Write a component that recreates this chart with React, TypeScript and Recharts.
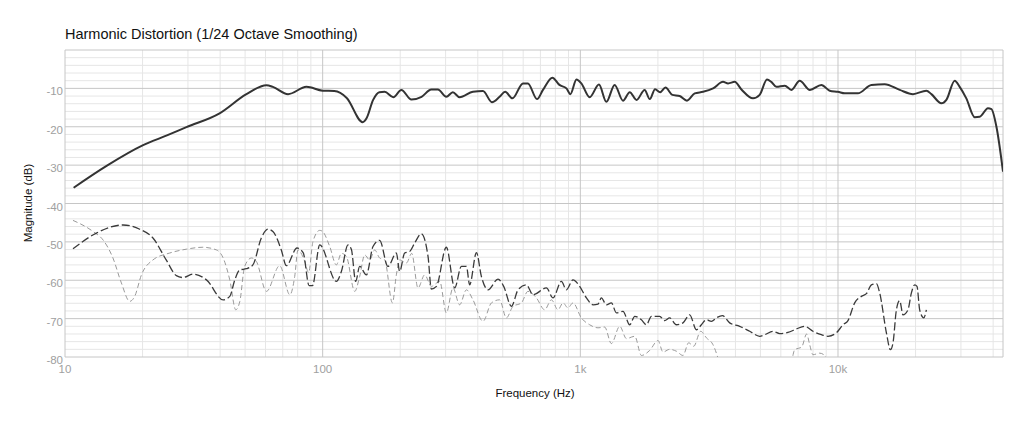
import React from "react"
import { LineChart, Line, XAxis, YAxis, ReferenceLine } from "recharts"

const FONT = "'Liberation Sans', Arial, Helvetica, sans-serif"

// fundamental (solid)
const fundHz = [
  10.8, 14.5, 20.1, 25, 29.6, 39.8, 50.6, 60.5, 64.1, 73.4, 86.5, 100, 111, 124, 143, 148, 157,
  166, 174, 188, 202, 221, 242, 264, 280, 302, 320, 340, 383, 419, 454, 486, 511, 545, 599, 626,
  679, 716, 779, 830, 883, 915, 966, 1009, 1087, 1181, 1262, 1359, 1464, 1555, 1653, 1777, 1860,
  1950, 2040, 2140, 2275, 2430, 2594, 2779, 2995, 3275, 3579, 3745, 3973, 4220, 4677, 4966,
  5302, 5510, 5767, 6213, 6600, 7100, 7780, 8620, 9290, 10000, 10620, 11950, 13480, 15180,
  17360, 19550, 22030, 23040, 25190, 26340, 28380, 29670, 31480, 33930, 35480, 38200, 39400,
  41200, 43690,
]
const fundDb = [
  -35.9, -30.2, -24.8, -22.2, -20.1, -16.5, -11.5, -9.2, -9.6, -11.5, -9.6, -10.6, -10.7, -12.5,
  -18.8, -17.8, -13, -11, -10.9, -12.3, -10.4, -12.9, -12.2, -10.3, -10.3, -12.2, -11, -12.3,
  -10.9, -10.7, -13.6, -12.2, -10.9, -12.6, -8.7, -8.7, -12.8, -10.4, -7.2, -9.1, -10, -11.5,
  -7.7, -8.7, -12.3, -9, -13.5, -9.1, -13.2, -11, -13, -10.4, -12.8, -10.2, -11, -9.8, -11.7,
  -12, -13.2, -11.3, -10.9, -10, -8.3, -8.7, -8.3, -10.3, -12.6, -11.7, -7.7, -8.3, -9.6, -9.3,
  -10.4, -8, -10.4, -9.1, -10.6, -10.9, -11.3, -11.3, -9.1, -8.9, -10.4, -11.5, -10.6, -11.5,
  -13.9, -13, -8, -9.6, -12.6, -17.5, -17.4, -15.2, -15.4, -20, -31.7,
]

// 2nd harmonic (dark dashed)
const h2Hz = [
  10.74, 13.24, 16.8, 19.5, 21.95, 24.7, 27.05, 28.7, 31.4, 35.4, 41.1, 43.6, 45.6, 47.7, 50.6,
  53.6, 57.8, 61.3, 64.1, 69.1, 72.3, 79.5, 84, 88.6, 91.3, 97.4, 113, 118.2, 125.4, 129.3,
  134.3, 139.2, 147.8, 156.8, 166.4, 179.2, 193.2, 199, 208.1, 217.6, 227.6, 241.5, 256.4,
  264.2, 276.4, 302, 325.4, 345.4, 361.3, 372, 395.2, 413, 438.2, 479.1, 504.2, 540.2, 573.1,
  617.6, 655.1, 738.5, 783.4, 844.5, 883, 936.5, 994, 1056, 1120, 1171, 1207, 1262, 1320, 1380,
  1464, 1555, 1626, 1726, 1805, 1887, 2032, 2125, 2222, 2360, 2503, 2657, 2821, 2950, 3085,
  3226, 3374, 3559, 3798, 4155, 4544, 4967, 5194, 5594, 5939, 6395, 6895, 7424, 7994, 8620,
  9144, 9856, 10456, 10934, 11609, 12326, 12891, 13481, 14095, 14516, 15413, 15970, 16350,
  16853, 17357, 17876, 18692, 19270, 19847, 20260, 20750, 21510, 22030,
]
const h2Db = [
  -51.8, -47.7, -45.6, -46.7, -49, -54.7, -58.8, -59.3, -58.4, -59.9, -65.1, -64.2, -59.9,
  -57.3, -57, -56, -49, -46.7, -47.3, -52.1, -56.2, -51.6, -52.8, -61.4, -61.4, -50.8, -60.3,
  -57.7, -50.8, -52, -60.3, -56.4, -58.6, -51.2, -49.6, -56.4, -52.9, -57.7, -52.9, -52.5,
  -50.3, -47.9, -53.8, -62.3, -61.6, -51.4, -62, -56.4, -56.4, -61.2, -52.8, -59, -62.5, -59.7,
  -61.6, -66.8, -62.5, -61.2, -63.8, -62, -64.6, -60.3, -62.5, -59.9, -61.6, -64.6, -66.4,
  -66.2, -64.6, -66.4, -65.9, -68.5, -68.1, -71.6, -69.4, -70.3, -71.6, -69.4, -69.4, -70.5,
  -69.8, -71.6, -71.1, -69, -72.9, -71.6, -70.3, -70.7, -69.8, -69.2, -71.1, -72, -73.3, -74.6,
  -74.2, -73.3, -73.9, -73.6, -72.7, -72, -73.3, -74.2, -74.6, -73.7, -71.6, -70.5, -65.9,
  -64.2, -63.5, -61.2, -60.9, -63.3, -73.7, -78.1, -76.3, -67.7, -65.3, -69, -67.7, -63.3,
  -61.2, -61.6, -67.7, -69.8, -67.7,
]

// 3rd harmonic (light dashed)
const h3Hz = [
  10.74, 12.85, 14.05, 15.35, 16.55, 17.83, 18.64, 19.8, 21.95, 25.5, 29.6, 34.3, 38.7, 41.1,
  43.6, 46, 47.7, 49.8, 52.9, 55.3, 60.5, 68.1, 74.6, 77.9, 80.2, 85.1, 88.2, 91.7, 97.4, 100,
  106.5, 113, 118.2, 123.6, 133.2, 139.2, 145.6, 152.2, 159.2, 166.4, 174.1, 186.5, 193.2, 199,
  211.4, 221.6, 234.4, 248.9, 264.2, 284.6, 302, 320.5, 340, 361.3, 383.1, 419, 451.8, 486,
  516.4, 548, 590.6, 626, 675.3, 727.1, 772.2, 819.2, 856.6, 895.6, 936.5, 1009, 1087, 1171,
  1243, 1320, 1422, 1510, 1626, 1726, 1858, 2002, 2093, 2222, 2360, 2503, 2633, 2754, 2932,
  3085, 3273, 3422, 3600, 4544, 5939, 6611, 6790, 7229, 7559, 7765, 7994, 8492, 8879, 9290,
]
const h3Db = [
  -44.4, -47.3, -49.5, -54.2, -60.7, -65.5, -64.2, -58.6, -54.7, -52.9, -51.9, -51.4, -52.1,
  -54.2, -59.9, -67.7, -65.5, -56.4, -54.2, -55.1, -62.9, -56.2, -63.8, -59, -52.1, -55, -58,
  -49.9, -47, -47.3, -51.2, -56, -53, -53.8, -62.9, -59, -53.4, -54.7, -52.1, -54.2, -54.7,
  -65.9, -58.6, -54.7, -55.5, -53, -62, -58.6, -61.6, -60.3, -68.5, -62, -66.4, -62.5, -65.1,
  -70.7, -65.9, -65.1, -69.8, -66.8, -65.9, -62.9, -64.6, -67.7, -65.1, -67.7, -65.9, -67.2,
  -65.9, -69.8, -71.6, -72.4, -72.2, -76.5, -72, -75.2, -74.6, -79.6, -78.3, -75.7, -78.7, -78,
  -78.5, -79.6, -76.3, -77.2, -73.3, -75, -76.8, -80.3, -86, -88, -86, -81, -78.1, -77.4, -74,
  -76.8, -79.4, -79, -79.6, -85,
]

const xTicks = [10, 100, 1000, 10000]
const xTickLabels = ["10", "100", "1k", "10k"]
const yTicks = [-10, -20, -30, -40, -50, -60, -70, -80]

const X_MIN = 10
const X_MAX = 43690

const toRows = (hz: number[], db: number[]) => hz.map((f, i) => ({ f, db: db[i] }))

const fundData = toRows(fundHz, fundDb)
const h2Data = toRows(h2Hz, h2Db)
const h3Data = toRows(h3Hz, h3Db)

// grid positions
const minorX: number[] = []
for (const dec of [10, 100, 1000, 10000]) {
  for (let m = 2; m <= 9; m++) {
    if (dec * m < X_MAX) minorX.push(dec * m)
  }
}
const majorX = [10, 100, 1000, 10000, X_MAX]
const minorY: number[] = []
for (let v = -78; v < 0; v += 2) {
  if (v % 10 !== 0) minorY.push(v)
}
const majorY = [0, -10, -20, -30, -40, -50, -60, -70, -80]

const MINOR = "#e6e6e6"
const MAJOR = "#c6c6c6"
const TICK = "#a0a0a0"

function YTick(props: any) {
  const { x, y, payload } = props
  return (
    <text x={x} y={y + 3} textAnchor="end" dominantBaseline="central" fill={TICK} fontSize={11.5} fontFamily={FONT}>
      {payload.value}
    </text>
  )
}

function XTick(props: any) {
  const { x, y, payload } = props
  const idx = xTicks.indexOf(payload.value)
  return (
    <text x={x} y={y + 12} textAnchor="middle" dominantBaseline="central" fill={TICK} fontSize={11.5} fontFamily={FONT}>
      {idx >= 0 ? xTickLabels[idx] : payload.value}
    </text>
  )
}

export default function App() {
  return (
    <div style={{ position: "absolute", left: 0, top: 0, width: 1024, height: 427, background: "#fff", fontFamily: FONT }}>
      <div style={{ position: "absolute", left: 65, top: 26, fontSize: 14.5, color: "#111", whiteSpace: "nowrap" }}>
        <span style={{ fontWeight: 500 }}>Harmonic Distortion</span> (1/24 Octave Smoothing)
      </div>
      <LineChart width={1024} height={427} margin={{ top: 50, right: 21, left: 25, bottom: 40 }}>
        <XAxis
          dataKey="f"
          type="number"
          scale="log"
          domain={[X_MIN, X_MAX]}
          ticks={xTicks}
          allowDataOverflow
          axisLine={false}
          tickLine={false}
          tickSize={0}
          tickMargin={0}
          height={30}
          tick={<XTick />}
          interval={0}
        />
        <YAxis
          type="number"
          domain={[-80, 0]}
          ticks={yTicks}
          allowDataOverflow
          axisLine={false}
          tickLine={false}
          tickSize={0}
          tickMargin={2}
          width={40}
          tick={<YTick />}
          interval={0}
        />
        {minorX.map((v) => (
          <ReferenceLine key={"mx" + v} x={v} stroke={MINOR} strokeWidth={1} />
        ))}
        {minorY.map((v) => (
          <ReferenceLine key={"my" + v} y={v} stroke={MINOR} strokeWidth={1} />
        ))}
        {majorX.map((v) => (
          <ReferenceLine key={"Mx" + v} x={v} stroke={MAJOR} strokeWidth={1} />
        ))}
        {majorY.map((v) => (
          <ReferenceLine key={"My" + v} y={v} stroke={MAJOR} strokeWidth={1} />
        ))}
        <Line
          data={h3Data}
          dataKey="db"
          type="monotone"
          stroke="#9a9a9a"
          strokeWidth={1}
          strokeDasharray="5 3"
          dot={false}
          isAnimationActive={false}
        />
        <Line
          data={h2Data}
          dataKey="db"
          type="monotone"
          stroke="#3a3a3a"
          strokeWidth={1.3}
          strokeDasharray="8 3"
          dot={false}
          isAnimationActive={false}
        />
        <Line
          data={fundData}
          dataKey="db"
          type="monotone"
          stroke="#333"
          strokeWidth={2}
          dot={false}
          isAnimationActive={false}
        />
      </LineChart>
      <div
        style={{
          position: "absolute",
          left: 28,
          top: 203,
          transform: "translate(-50%, -50%) rotate(-90deg)",
          fontSize: 11.5,
          color: "#111",
          whiteSpace: "nowrap",
        }}
      >
        Magnitude (dB)
      </div>
      <div
        style={{
          position: "absolute",
          left: 535,
          top: 393,
          transform: "translate(-50%, -50%)",
          fontSize: 11.5,
          color: "#111",
          whiteSpace: "nowrap",
        }}
      >
        Frequency (Hz)
      </div>
    </div>
  )
}
